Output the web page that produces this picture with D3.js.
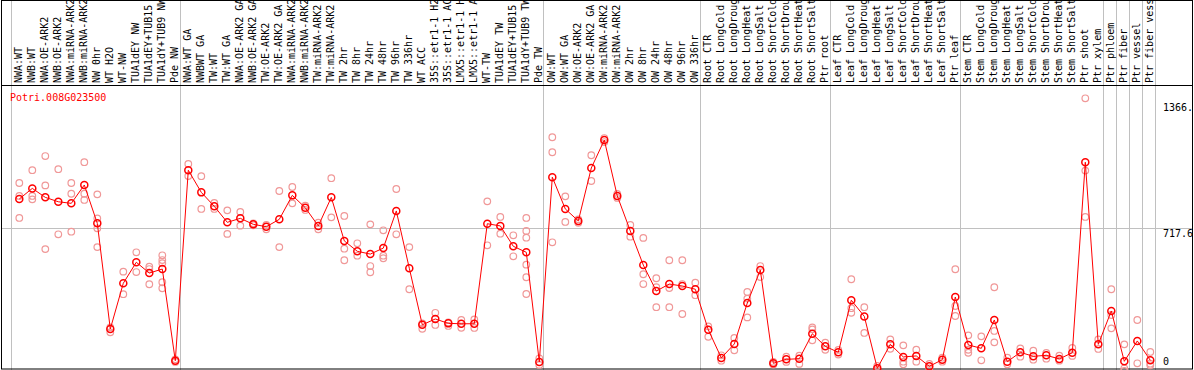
<!DOCTYPE html>
<html>
<head>
<meta charset="utf-8">
<script src="https://cdn.jsdelivr.net/npm/d3@7"></script>
<style>
  body { margin: 0; background: #fff; }
  svg { display: block; }
  text { font-family: "DejaVu Sans Mono", monospace; font-size: 10px; }
</style>
</head>
<body>
<div id="target"></div>
<script>
var title = "Potri.008G023500";

var categories = [
  "NWA:WT", "NWB:WT", "NWA:OE-ARK2", "NWB:OE-ARK2", "NWA:miRNA-ARK2", "NWB:miRNA-ARK2", "NW 0hr", "WT H2O", "WT-NW", "TUA1dEY NW", "TUA1dEY+TUB15", "TUA1dY+TUB9 NW", "Pde NW",
  "NWA:WT GA", "NWBWT GA", "TW:WT", "TW:WT GA", "NWA:OE-ARK2 GA", "NWB:OE-ARK2 GA", "TW:OE-ARK2", "TW:OE-ARK2 GA", "NWA:miRNA-ARK2", "NWB:miRNA-ARK2", "TW:miRNA-ARK2", "TW:miRNA-ARK2",
  "TW 2hr", "TW 8hr", "TW 24hr", "TW 48hr", "TW 96hr", "TW 336hr", "WT ACC", "35S::etr1-1 H2O", "35S::etr1-1 ACC", "LMX5::etr1-1 H2O", "LMX5::etr1-1 ACC", "WT-TW", "TUA1dEY TW", "TUA1dEY+TUB15", "TUA1dY+TUB9 TW", "Pde TW",
  "OW:WT", "OW:WT GA", "OW:OE-ARK2", "OW:OE-ARK2 GA", "OW:miRNA-ARK2", "OW:miRNA-ARK2", "OW 2hr", "OW 8hr", "OW 24hr", "OW 48hr", "OW 96hr", "OW 336hr",
  "Root CTR", "Root LongCold", "Root LongDrought", "Root LongHeat", "Root LongSalt", "Root ShortCold", "Root ShortDrought", "Root ShortHeat", "Root ShortSalt", "Ptr root",
  "Leaf CTR", "Leaf LongCold", "Leaf LongDrought", "Leaf LongHeat", "Leaf LongSalt", "Leaf ShortCold", "Leaf ShortDrought", "Leaf ShortHeat", "Leaf ShortSalt", "Ptr leaf",
  "Stem CTR", "Stem LongCold", "Stem LongDrought", "Stem LongHeat", "Stem LongSalt", "Stem ShortCold", "Stem ShortDrought", "Stem ShortHeat", "Stem ShortSalt", "Ptr shoot", "Ptr xylem",
  "Ptr phloem", "Ptr fiber", "Ptr vessel", "Ptr fiber vessel"
];

// number of categories in each group (separated by grey lines)
var groupSizes = [13, 28, 12, 10, 10, 11, 1, 1, 1, 1];

var means = [
  863, 916, 871, 849, 841, 933, 741, 212, 441, 546, 492, 512, 53,
  1007, 896, 826, 746, 766, 736, 724, 761, 881, 819, 728, 871, 653, 601, 587, 617, 803, 516, 233, 262, 240, 238, 238, 739, 728, 626, 596, 47,
  972, 813, 753, 1018, 1158, 878, 703, 532, 402, 437, 427, 411,
  208, 67, 137, 342, 507, 40, 60, 63, 188, 125,
  95, 356, 275, 15, 135, 72, 77, 25, 58, 372,
  132, 115, 257, 48, 95, 75, 80, 62, 93, 1047, 135,
  302, 50, 152, 55
];

var replicates = [
  [943, 878, 768], [1007, 878, 861], [1078, 931, 612], [1012, 686], [943, 889, 699], [1047, 889, 858], [886, 766, 716, 622], [220, 195], [499, 386], [596, 497], [524, 512, 436], [581, 557, 541, 446, 416], [60, 47],
  [1038, 978], [977, 813], [843, 813], [806, 688], [798, 729], [741, 731], [733, 711], [903, 622], [923, 841], [829, 808], [744, 711], [967, 771], [778, 614, 556], [641, 579], [736, 527, 496], [706, 579, 566], [913, 686], [622, 411], [240, 213], [293, 232], [245, 227], [257, 218], [260, 217], [851, 631], [773, 689], [681, 576], [768, 703, 669, 534, 471, 387], [65, 32],
  [1172, 1097, 646], [876, 748], [761, 744], [1082, 953], [1168, 1148], [888, 868], [733, 674], [668, 486, 437], [466, 421, 321], [556, 417, 321], [556, 437, 287], [444, 381],
  [225, 173], [80, 53], [167, 105], [397, 364, 270], [527, 472], [47, 34], [73, 47], [78, 37], [220, 210, 155], [143, 108],
  [107, 84], [461, 316, 293], [321, 192], [27, 7], [160, 113], [130, 48, 35], [108, 48], [37, 14], [68, 48], [511, 327, 277],
  [180, 108, 93], [175, 55], [421, 202, 145], [68, 35], [115, 73], [103, 58], [92, 63], [78, 53], [117, 77], [1367, 1005, 773], [160, 112],
  [411, 282, 215], [135, 15, 2], [257, 40], [97, 30, 38]
];

var axisValues = [1366.86, 717.6, 0];
var axisLabels = ["1366.86", "717.6", "0"];

function renderGraph() {
  var width = 1194, height = 370;
  var headerH = 85;

  var svg = d3.select("#target").append("svg")
    .attr("width", width)
    .attr("height", height);

  var x = d3.scaleLinear()
    .domain([0, categories.length])
    .range([10.5, 10.5 + 13 * categories.length]);
  var cx = function(i) { return x(i) + 8.8; };

  var y = d3.scaleLinear()
    .domain([0, 1435.2])
    .range([371.3, 84.7]);

  // group separators
  var bounds = [0];
  groupSizes.forEach(function(n) { bounds.push(bounds[bounds.length - 1] + n); });

  svg.append("g").selectAll("line")
    .data(bounds)
    .enter().append("line")
    .attr("x1", d => Math.round(x(d)) + 0.5)
    .attr("x2", d => Math.round(x(d)) + 0.5)
    .attr("y1", 0)
    .attr("y2", height)
    .attr("stroke", "#c0c0c0")
    .attr("stroke-width", 1);

  // horizontal grid at half
  svg.append("line")
    .attr("x1", 1).attr("x2", 1192)
    .attr("y1", Math.round(y(717.6)) + 0.5)
    .attr("y2", Math.round(y(717.6)) + 0.5)
    .attr("stroke", "#c0c0c0");

  // frame
  svg.append("rect")
    .attr("x", 1.5).attr("y", 0.5)
    .attr("width", 1191).attr("height", 368.5)
    .attr("fill", "none")
    .attr("stroke", "#000");
  svg.append("line")
    .attr("x1", 1).attr("x2", 1193)
    .attr("y1", headerH + 0.5).attr("y2", headerH + 0.5)
    .attr("stroke", "#000");

  // category labels
  svg.append("g").selectAll("text")
    .data(categories)
    .enter().append("text")
    .attr("transform", (d, i) => `translate(${cx(i) + 2.7}, 83) rotate(-90)`)
    .attr("fill", "#000")
    .text(d => d);

  // cover label overflow at the very top so frame line stays
  svg.append("line")
    .attr("x1", 1).attr("x2", 1193)
    .attr("y1", 0.5).attr("y2", 0.5)
    .attr("stroke", "#000");

  // title
  svg.append("text")
    .attr("x", 10)
    .attr("y", 101)
    .attr("fill", "#ff0000")
    .text(title);

  // right axis labels
  svg.append("clipPath").attr("id", "axclip")
    .append("rect").attr("x", 1150).attr("y", 86).attr("width", 42).attr("height", 284);
  var dys = [13, 9, -6];
  svg.append("g").attr("clip-path", "url(#axclip)")
    .selectAll("text")
    .data(axisValues)
    .enter().append("text")
    .attr("x", 1163)
    .attr("y", (d, i) => y(d) + dys[i])
    .attr("fill", "#000")
    .text((d, i) => axisLabels[i]);

  // replicates
  var reps = [];
  replicates.forEach(function(arr, i) {
    arr.forEach(function(v) { reps.push({i: i, v: v}); });
  });
  svg.append("g").selectAll("circle")
    .data(reps)
    .enter().append("circle")
    .attr("cx", d => cx(d.i))
    .attr("cy", d => y(d.v))
    .attr("r", 3.3)
    .attr("fill", "none")
    .attr("stroke", "#f09898")
    .attr("stroke-width", 1.2);

  // mean line
  var line = d3.line()
    .x((d, i) => cx(i))
    .y(d => y(d));
  svg.append("path")
    .datum(means)
    .attr("d", line)
    .attr("fill", "none")
    .attr("stroke", "#ff0000")
    .attr("stroke-width", 1);

  svg.append("g").selectAll("circle")
    .data(means)
    .enter().append("circle")
    .attr("cx", (d, i) => cx(i))
    .attr("cy", d => y(d))
    .attr("r", 3.5)
    .attr("fill", "none")
    .attr("stroke", "#ff0000")
    .attr("stroke-width", 1.5);
}

renderGraph();
</script>
</body>
</html>
